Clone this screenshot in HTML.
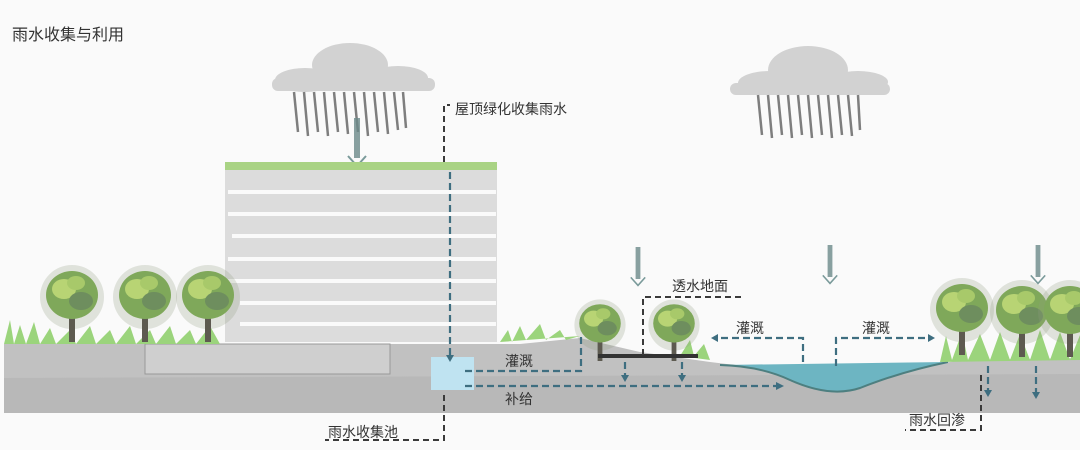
<!DOCTYPE html>
<html><head><meta charset="utf-8"><style>
html,body{margin:0;padding:0;background:#fafafa;}
svg{display:block;}
text{font-family:"Liberation Sans","Noto Sans CJK SC",sans-serif;fill:#333;}
</style></head><body>
<svg width="1080" height="450" viewBox="0 0 1080 450" xmlns="http://www.w3.org/2000/svg">
<defs>
<g id="tree">
 <circle cx="0" cy="0" r="32" fill="#8f9a80" opacity="0.25"/>
 <rect x="-3" y="5" width="6" height="40" fill="#5d5a50"/>
 <ellipse cx="0" cy="-2" rx="26" ry="24" fill="#7fa85a"/>
 <ellipse cx="-8" cy="-8" rx="12" ry="10" fill="#b8d474"/>
 <ellipse cx="9" cy="4" rx="12" ry="9" fill="#6e8e5e"/>
 <ellipse cx="4" cy="-14" rx="9" ry="7" fill="#a8c96a"/>
</g>
<g id="arrowDown">
 <rect x="-3" y="0" width="6" height="40" fill="#6b8a8a" opacity="0.8"/>
 <path d="M-9 38 L0 48 L9 38" stroke="#7a9a9a" stroke-width="2" fill="none"/>
</g>
</defs>
<rect width="1080" height="450" fill="#fafafa"/>
<text x="12" y="40" font-size="16">雨水收集与利用</text>

<!-- clouds -->
<g fill="#d2d2d2">
 <ellipse cx="350" cy="65" rx="38" ry="22"/>
 <ellipse cx="305" cy="80" rx="30" ry="12"/>
 <ellipse cx="398" cy="78" rx="30" ry="12"/>
 <rect x="272" y="78" width="163" height="13" rx="6"/>
 <ellipse cx="808" cy="70" rx="40" ry="24"/>
 <ellipse cx="770" cy="83" rx="32" ry="12"/>
 <ellipse cx="858" cy="82" rx="30" ry="11"/>
 <rect x="730" y="83" width="160" height="12" rx="6"/>
</g>
<g stroke="#555" stroke-width="2.5" opacity="0.75">
 <path d="M294 92 L298 132 M304 92 L308 136 M314 92 L318 132 M324 92 L328 136 M334 92 L338 132 M344 92 L348 134 M354 92 L358 132 M364 92 L368 136 M374 92 L378 132 M384 92 L388 134 M394 92 L398 130 M403 92 L406 128"/>
 <path d="M758 95 L762 135 M768 95 L772 138 M778 95 L782 135 M788 95 L792 138 M798 95 L802 135 M808 95 L812 138 M818 95 L822 135 M828 95 L832 138 M838 95 L842 135 M848 95 L852 136 M858 95 L860 130"/>
</g>
<g transform="translate(357,118)"><use href="#arrowDown"/></g>

<!-- building -->
<rect x="225" y="162" width="272" height="180" fill="#dcdcdc"/>
<rect x="225" y="162" width="272" height="8" fill="#a9d384"/>
<g fill="#fafafa">
 <rect x="228" y="190" width="268" height="4"/>
 <rect x="228" y="212" width="268" height="4"/>
 <rect x="232" y="234" width="264" height="4"/>
 <rect x="228" y="257" width="268" height="4"/>
 <rect x="228" y="279" width="268" height="4"/>
 <rect x="240" y="301" width="256" height="4"/>
 <rect x="240" y="322" width="256" height="4"/>
</g>

<!-- ground -->
<path d="M4 344 L520 344 L580 338 L640 352 L710 362 L760 368 L800 382 L840 390 L880 382 L920 368 L960 360 L1080 358 L1080 413 L4 413 Z" fill="#c1c1c1"/>
<path d="M4 378 L1080 374 L1080 413 L4 413 Z" fill="#b8b8b8"/>
<rect x="145" y="344" width="245" height="30" fill="#cfcfcf" stroke="#999" stroke-width="1"/>
<!-- pond -->
<path d="M720 365 Q760 366 790 380 Q830 398 860 388 Q900 372 948 362 Z" fill="#6db5c2"/>
<path d="M720 365 Q760 366 790 380 Q830 398 860 388 Q900 372 948 362" stroke="#4d7f80" stroke-width="2" fill="none"/>
<!-- pool -->
<rect x="431" y="357" width="43" height="33" fill="#bfe3f1"/>

<!-- grass -->
<g fill="#9bd47c">
 <path d="M4 344 L10 320 L14 344 L20 325 L26 344 L34 322 L40 344 L50 328 L56 344 L70 330 L76 344 L90 326 L96 344 L110 330 L116 344 L130 326 L136 344 L150 330 L156 344 L170 326 L176 344 L190 330 L196 344 L210 326 L220 344Z"/>
 <path d="M500 342 L508 330 L512 342 L520 326 L526 340 L540 324 L546 340 L560 330 L566 340 L580 336Z"/>
 <path d="M680 356 L690 340 L694 356 L704 344 L710 360Z"/>
 <path d="M940 362 L946 336 L952 360 L962 332 L968 360 L980 334 L990 360 L1000 332 L1010 360 L1020 334 L1030 360 L1040 330 L1050 360 L1060 332 L1070 360 L1080 335 L1080 360Z"/>
</g>
<!-- trees -->
<g transform="translate(72,297)"><use href="#tree"/></g>
<g transform="translate(145,297)"><use href="#tree"/></g>
<g transform="translate(208,297)"><use href="#tree"/></g>
<g transform="translate(600,325) scale(0.8)"><use href="#tree"/></g>
<g transform="translate(674,325) scale(0.8)"><use href="#tree"/></g>
<g transform="translate(962,310)"><use href="#tree"/></g>
<g transform="translate(1022,312)"><use href="#tree"/></g>
<g transform="translate(1070,312)"><use href="#tree"/></g>

<!-- permeable ground -->
<rect x="598" y="354" width="100" height="4" fill="#333"/>

<!-- rain arrows -->
<g transform="translate(638,247) scale(0.8)"><use href="#arrowDown"/></g>
<g transform="translate(830,245) scale(0.8)"><use href="#arrowDown"/></g>
<g transform="translate(1038,245) scale(0.8)"><use href="#arrowDown"/></g>

<!-- dashed lines -->
<g stroke="#3a3a3a" stroke-width="2" stroke-dasharray="6,4" fill="none">
 <path d="M444 162 V105 H450"/>
 <path d="M444 395 V440 H325"/>
 <path d="M643 355 V297 H745"/>
 <path d="M981 375 V430 H905"/>
</g>
<g stroke="#3e6e80" stroke-width="2.2" stroke-dasharray="7,4" fill="none">
 <path d="M450 172 V355"/>
 <path d="M465 371 H581 V335"/>
 <path d="M465 386 H776"/>
 <path d="M625 362 V375"/>
 <path d="M682 362 V375"/>
 <path d="M803 362 V338 H718"/>
 <path d="M836 366 V338 H928"/>
 <path d="M988 366 V390"/>
 <path d="M1036 366 V392"/>
</g>
<g fill="#3e6e80">
 <path d="M446 355 L450 362 L454 355Z"/>
 <path d="M776 382 L784 386 L776 390Z"/>
 <path d="M718 334 L711 338 L718 342Z"/>
 <path d="M928 334 L935 338 L928 342Z"/>
 <path d="M621 375 L625 382 L629 375Z"/>
 <path d="M678 375 L682 382 L686 375Z"/>
 <path d="M984 390 L988 397 L992 390Z"/>
 <path d="M1032 392 L1036 399 L1040 392Z"/>
</g>

<!-- labels -->
<text x="455" y="114" font-size="14">屋顶绿化收集雨水</text>
<text x="328" y="437" font-size="14">雨水收集池</text>
<text x="505" y="366" font-size="14">灌溉</text>
<text x="505" y="404" font-size="14">补给</text>
<text x="672" y="291" font-size="14">透水地面</text>
<text x="736" y="333" font-size="14">灌溉</text>
<text x="862" y="333" font-size="14">灌溉</text>
<text x="909" y="425" font-size="14">雨水回渗</text>
</svg>
</body></html>
